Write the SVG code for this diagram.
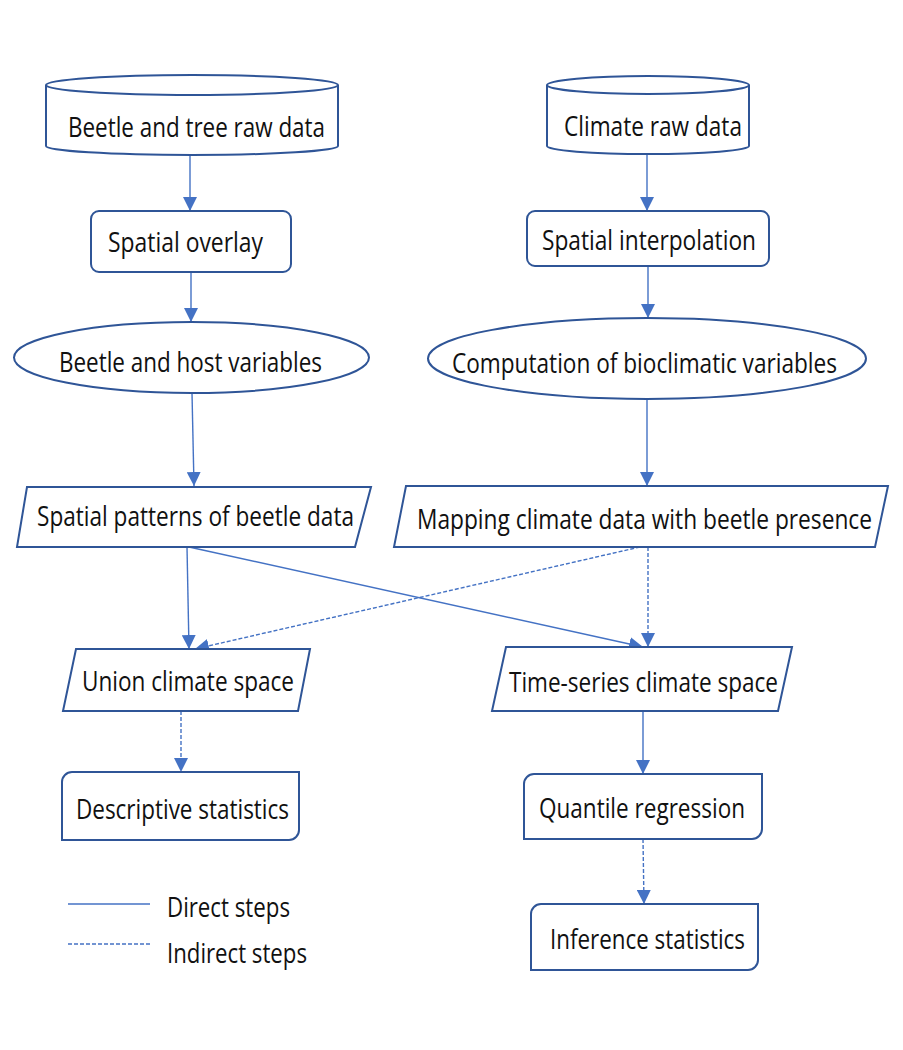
<svg xmlns="http://www.w3.org/2000/svg" width="903" height="1050" viewBox="0 0 903 1050">
<defs>
<style>
.node{fill:#ffffff;stroke:#2F5597;stroke-width:2}
.lbl{font-family:"Open Sans","Liberation Sans",sans-serif;font-size:21px;fill:#111111}
.con{fill:none;stroke:#4472C4;stroke-width:1.4}
.dash{stroke-dasharray:4,2}
</style>
<marker id="ah" markerUnits="userSpaceOnUse" markerWidth="14" markerHeight="14" refX="14" refY="7" orient="auto">
<path d="M0,0 L14,7 L0,14 Z" fill="#4472C4"/>
</marker>
</defs>
<rect width="903" height="1050" fill="#ffffff"/>

<g id="connectors">
<line class="con" x1="190" y1="156" x2="190" y2="211" marker-end="url(#ah)"/>
<line class="con" x1="191" y1="272" x2="191" y2="322" marker-end="url(#ah)"/>
<line class="con" x1="192" y1="393" x2="194" y2="486" marker-end="url(#ah)"/>
<line class="con" x1="647" y1="154" x2="647" y2="211" marker-end="url(#ah)"/>
<line class="con" x1="648" y1="266" x2="648" y2="318" marker-end="url(#ah)"/>
<line class="con" x1="647" y1="399" x2="647" y2="486" marker-end="url(#ah)"/>
<line class="con" x1="187" y1="547" x2="189" y2="649" marker-end="url(#ah)"/>
<line class="con" x1="189" y1="547" x2="643" y2="647" marker-end="url(#ah)"/>
<line class="con dash" x1="640" y1="547" x2="195" y2="649" marker-end="url(#ah)"/>
<line class="con dash" x1="648" y1="547" x2="648" y2="647" marker-end="url(#ah)"/>
<line class="con dash" x1="181" y1="711" x2="181" y2="772" marker-end="url(#ah)"/>
<line class="con" x1="643" y1="711" x2="643" y2="774" marker-end="url(#ah)"/>
<line class="con dash" x1="643" y1="839" x2="644" y2="904" marker-end="url(#ah)"/>
</g>

<g id="n-beetle-raw">
<path class="node" d="M46,85 V146 A146,9 0 0 0 338,146 V85"/>
<ellipse class="node" cx="192" cy="85" rx="146" ry="10"/>
<text class="lbl" transform="translate(68,137) scale(1,1.3)" textLength="257" lengthAdjust="spacingAndGlyphs">Beetle and tree raw data</text>
</g>

<g id="n-climate-raw">
<path class="node" d="M547,85 V146 A101,8 0 0 0 749,146 V85"/>
<ellipse class="node" cx="648" cy="85" rx="101" ry="9"/>
<text class="lbl" transform="translate(564,136) scale(1,1.3)" textLength="178" lengthAdjust="spacingAndGlyphs">Climate raw data</text>
</g>

<g id="n-spatial-overlay">
<rect class="node" x="91" y="211" width="200" height="61" rx="8"/>
<text class="lbl" transform="translate(108,252) scale(1,1.3)" textLength="155" lengthAdjust="spacingAndGlyphs">Spatial overlay</text>
</g>

<g id="n-spatial-interp">
<rect class="node" x="527" y="211" width="242" height="55" rx="8"/>
<text class="lbl" transform="translate(542,250) scale(1,1.3)" textLength="214" lengthAdjust="spacingAndGlyphs">Spatial interpolation</text>
</g>

<g id="n-beetle-host">
<ellipse class="node" cx="191.5" cy="357.5" rx="177.5" ry="35.5"/>
<text class="lbl" transform="translate(59,372) scale(1,1.3)" textLength="263" lengthAdjust="spacingAndGlyphs">Beetle and host variables</text>
</g>

<g id="n-bioclim">
<ellipse class="node" cx="647" cy="358.5" rx="219" ry="40.5"/>
<text class="lbl" transform="translate(452,373) scale(1,1.3)" textLength="385" lengthAdjust="spacingAndGlyphs">Computation of bioclimatic variables</text>
</g>

<g id="n-spatial-patterns">
<polygon class="node" points="27,487 371,487 355,547 17,547"/>
<text class="lbl" transform="translate(37,526) scale(1,1.3)" textLength="317" lengthAdjust="spacingAndGlyphs">Spatial patterns of beetle data</text>
</g>

<g id="n-mapping">
<polygon class="node" points="406,486 888,486 875,547 394,547"/>
<text class="lbl" transform="translate(417,529) scale(1,1.3)" textLength="455" lengthAdjust="spacingAndGlyphs">Mapping climate data with beetle presence</text>
</g>

<g id="n-union">
<polygon class="node" points="76,649 310,649 298,711 63,711"/>
<text class="lbl" transform="translate(82,691) scale(1,1.3)" textLength="212" lengthAdjust="spacingAndGlyphs">Union climate space</text>
</g>

<g id="n-timeseries">
<polygon class="node" points="506,647 792,647 778,711 492,711"/>
<text class="lbl" transform="translate(509,692) scale(1,1.3)" textLength="269" lengthAdjust="spacingAndGlyphs">Time-series climate space</text>
</g>

<g id="n-descriptive">
<path class="node" d="M72,772 H299 V830 A10,10 0 0 1 289,840 H62 V782 A10,10 0 0 1 72,772 Z"/>
<text class="lbl" transform="translate(76,819) scale(1,1.3)" textLength="213" lengthAdjust="spacingAndGlyphs">Descriptive statistics</text>
</g>

<g id="n-quantile">
<path class="node" d="M534,774 H762 V829 A10,10 0 0 1 752,839 H524 V784 A10,10 0 0 1 534,774 Z"/>
<text class="lbl" transform="translate(539,818) scale(1,1.3)" textLength="206" lengthAdjust="spacingAndGlyphs">Quantile regression</text>
</g>

<g id="n-inference">
<path class="node" d="M541,904 H758 V960 A10,10 0 0 1 748,970 H531 V914 A10,10 0 0 1 541,904 Z"/>
<text class="lbl" transform="translate(550,949) scale(1,1.3)" textLength="195" lengthAdjust="spacingAndGlyphs">Inference statistics</text>
</g>

<g id="legend">
<line x1="68" y1="904" x2="150" y2="904" stroke="#4472C4" stroke-width="1.6"/>
<text class="lbl" transform="translate(167,917) scale(1,1.3)" textLength="123" lengthAdjust="spacingAndGlyphs">Direct steps</text>
<line x1="68" y1="944" x2="150" y2="944" stroke="#4472C4" stroke-width="1.6" stroke-dasharray="4,2"/>
<text class="lbl" transform="translate(167,963) scale(1,1.3)" textLength="140" lengthAdjust="spacingAndGlyphs">Indirect steps</text>
</g>
</svg>
